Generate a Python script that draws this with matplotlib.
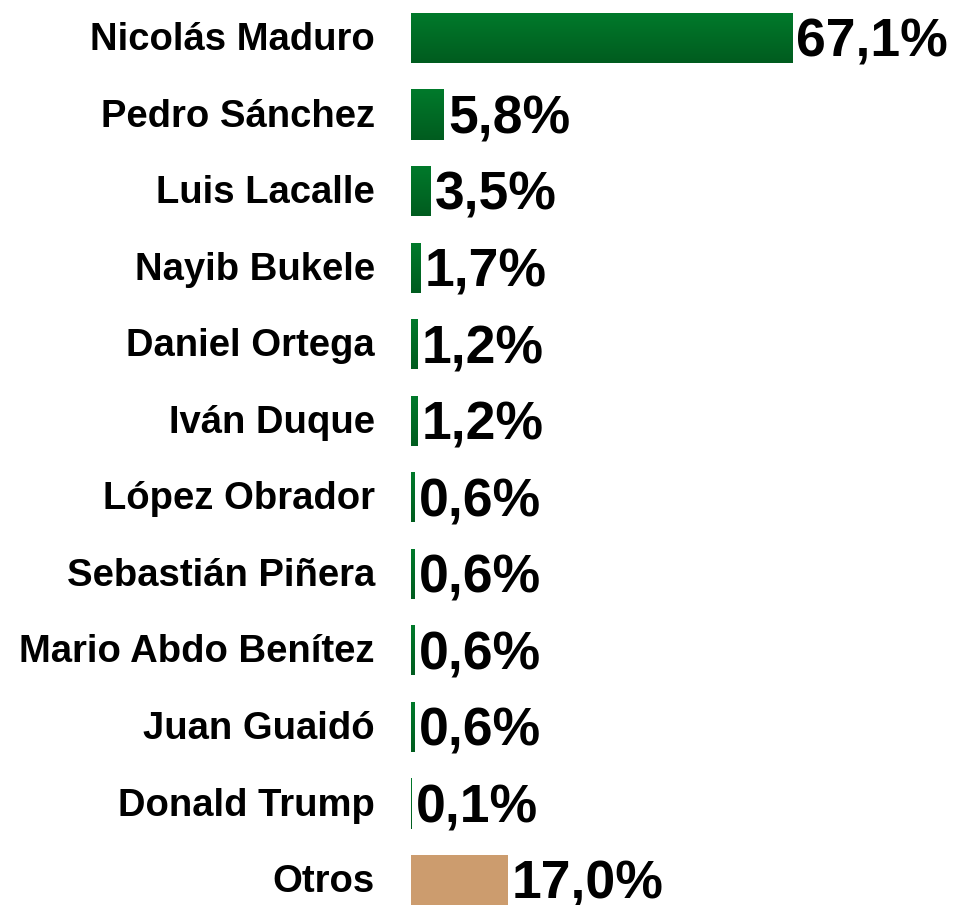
import matplotlib
matplotlib.use("Agg")
import matplotlib.pyplot as plt
import numpy as np
from matplotlib.colors import LinearSegmentedColormap

nombres = ["Nicolás Maduro", "Pedro Sánchez", "Luis Lacalle", "Nayib Bukele",
           "Daniel Ortega", "Iván Duque", "López Obrador", "Sebastián Piñera",
           "Mario Abdo Benítez", "Juan Guaidó", "Donald Trump", "Otros"]
valores = [67.1, 5.8, 3.5, 1.7, 1.2, 1.2, 0.6, 0.6, 0.6, 0.6, 0.1, 17.0]
etiquetas = ["67,1%", "5,8%", "3,5%", "1,7%", "1,2%", "1,2%", "0,6%", "0,6%",
             "0,6%", "0,6%", "0,1%", "17,0%"]

plt.rcParams['font.family'] = ['Liberation Sans', 'DejaVu Sans']

fig = plt.figure(figsize=(9.55, 9.05), dpi=100)
ax = fig.add_axes([411 / 955, 0, 1 - 411 / 955, 1])

y = np.arange(len(nombres))
verde = LinearSegmentedColormap.from_list("verde", ["#007a2b", "#005c1f"])
grad = np.linspace(0, 1, 50).reshape(-1, 1)

bars = ax.barh(y, valores, height=0.655, color="#006b25", linewidth=0)
for i, b in enumerate(bars):
    if nombres[i] == "Otros":
        b.set_color("#cc9c6e")
        continue
    b.set_alpha(0)
    x0, y0 = b.get_x(), b.get_y()
    w, h = b.get_width(), b.get_height()
    im = ax.imshow(grad, cmap=verde, aspect="auto",
                   extent=[x0, x0 + w, y0 + h, y0], zorder=2)
    im.set_clip_path(b)

for i, v in enumerate(valores):
    ax.annotate(etiquetas[i], (v, i), xytext=(3, -3.5), textcoords="offset points",
                va="center", ha="left", fontsize=38.5, fontweight="bold")
    ax.annotate(nombres[i], (0, i), xytext=(-26, -1.5), textcoords="offset points",
                va="center", ha="right", fontsize=27.5, fontweight="bold",
                annotation_clip=False)

ax.set_xlim(0, (955 - 411) / 5.68)
ax.set_ylim(11 + 25 / 76.55, -38 / 76.55)
ax.axis("off")

fig.savefig("out.png", dpi=100)
